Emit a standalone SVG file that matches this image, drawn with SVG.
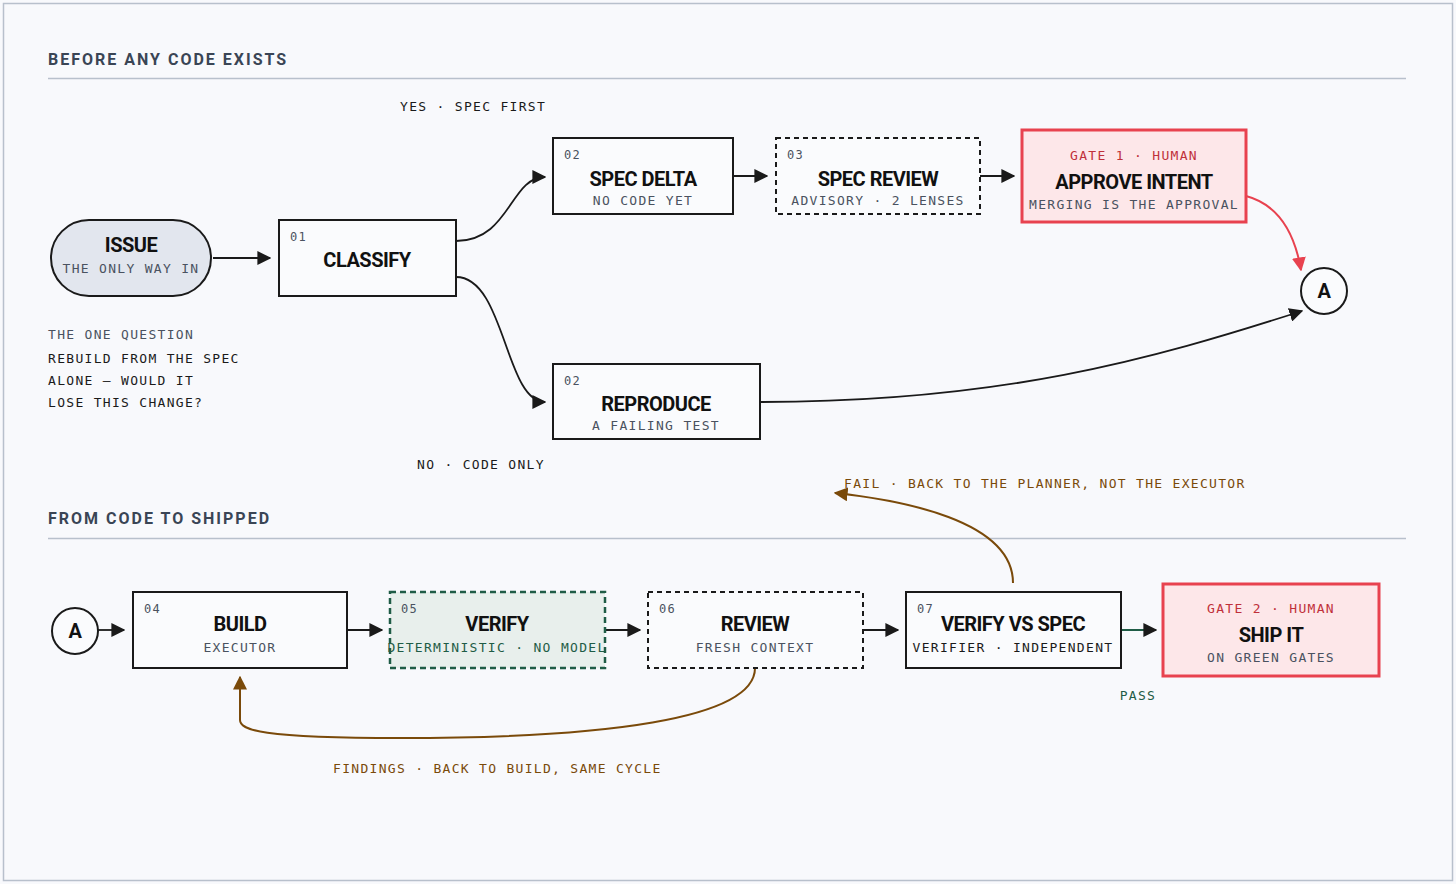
<svg xmlns="http://www.w3.org/2000/svg" width="1456" height="884" viewBox="0 0 1456 884">
<defs>
<style>
.hdr{font-family:Roboto,"Liberation Sans",sans-serif;font-weight:700;font-size:16px;letter-spacing:2px;fill:#3a4555}
.ttl{font-family:Roboto,"Liberation Sans",sans-serif;font-weight:700;font-size:20px;fill:#111;text-anchor:middle;letter-spacing:-0.5px}
.mono{font-family:"DejaVu Sans Mono","Liberation Mono",monospace;font-size:13px;letter-spacing:1.3px}
.sub{fill:#4a5260;text-anchor:middle}
.num{fill:#4a5260;font-size:12px}
.box{fill:#fafbfd;stroke:#1a1a1a;stroke-width:2}
.dash{stroke-dasharray:5 4}
.gate{fill:#fde7e9;stroke:#e8424f;stroke-width:3}
.gt{fill:#c0303a;text-anchor:middle}
.lbl{fill:#1a1a1a}
.brown{fill:#7a4a0a}
.c{fill:none;stroke:#1a1a1a;stroke-width:1.8}
</style>
<marker id="ahb" markerWidth="14" markerHeight="14" viewBox="0 0 10 10" refX="9" refY="5" orient="auto" markerUnits="userSpaceOnUse"><path d="M0,0 L10,5 L0,10 z" fill="#1a1a1a"/></marker>
<marker id="ahr" markerWidth="14" markerHeight="14" viewBox="0 0 10 10" refX="9" refY="5" orient="auto" markerUnits="userSpaceOnUse"><path d="M0,0 L10,5 L0,10 z" fill="#e8424f"/></marker>
<marker id="ahbr" markerWidth="14" markerHeight="14" viewBox="0 0 10 10" refX="9" refY="5" orient="auto" markerUnits="userSpaceOnUse"><path d="M0,0 L10,5 L0,10 z" fill="#7a4a0a"/></marker>
</defs>
<rect x="0" y="0" width="1456" height="884" fill="#f8f9fc"/>
<rect x="3.5" y="3.5" width="1449" height="877" fill="none" stroke="#b8c0cc" stroke-width="1.5"/>

<text class="hdr" x="48" y="65">BEFORE ANY CODE EXISTS</text>
<line x1="48" y1="78.5" x2="1406" y2="78.5" stroke="#b8c0cc" stroke-width="1.5"/>
<text class="hdr" x="48" y="524">FROM CODE TO SHIPPED</text>
<line x1="48" y1="538.5" x2="1406" y2="538.5" stroke="#b8c0cc" stroke-width="1.5"/>

<g id="connectors">
<path class="c" d="M213,258 H270" marker-end="url(#ahb)"/>
<path class="c" d="M456,241 C510,241 510,177 545,177" marker-end="url(#ahb)"/>
<path class="c" d="M456,277 C505,277 505,402 545,402" marker-end="url(#ahb)"/>
<path class="c" d="M733,176 H767" marker-end="url(#ahb)"/>
<path class="c" d="M980,176 H1014" marker-end="url(#ahb)"/>
<path d="M1246,196 C1280,205 1295,235 1301,270" fill="none" stroke="#e8424f" stroke-width="2" marker-end="url(#ahr)"/>
<path class="c" d="M760,402 C1000,402 1150,360 1302,311" marker-end="url(#ahb)"/>
<path class="c" d="M98,630 H124" marker-end="url(#ahb)"/>
<path class="c" d="M347,630 H382" marker-end="url(#ahb)"/>
<path class="c" d="M605,630 H640" marker-end="url(#ahb)"/>
<path class="c" d="M863,630 H898" marker-end="url(#ahb)"/>
<path d="M1121,630 H1156" fill="none" stroke="#1f5c46" stroke-width="1.8" marker-end="url(#ahb)"/>
<path d="M1013,583 C1013,520 900,500 835,493" fill="none" stroke="#7a4a0a" stroke-width="2" marker-end="url(#ahbr)"/>
<path d="M755,668 C755,720 600,738 400,738 C260,738 240,730 240,720 V677" fill="none" stroke="#7a4a0a" stroke-width="2" marker-end="url(#ahbr)"/>
</g>

<g id="issue"><rect x="51" y="220" width="160" height="76" rx="38" fill="#e2e6ee" stroke="#1a1a1a" stroke-width="2"/>
<text class="ttl" x="131" y="252">ISSUE</text><text class="mono sub" x="131" y="273">THE ONLY WAY IN</text></g>
<g id="classify"><rect class="box" x="279" y="220" width="177" height="76"/>
<text class="mono num" x="290" y="241">01</text><text class="ttl" x="367" y="267">CLASSIFY</text></g>
<g id="specdelta"><rect class="box" x="553" y="138" width="180" height="76"/>
<text class="mono num" x="564" y="159">02</text><text class="ttl" x="643" y="186">SPEC DELTA</text><text class="mono sub" x="643" y="205">NO CODE YET</text></g>
<g id="specreview"><rect class="box dash" x="776" y="138" width="204" height="76" stroke-width="1.5"/>
<text class="mono num" x="787" y="159">03</text><text class="ttl" x="878" y="186">SPEC REVIEW</text><text class="mono sub" x="878" y="205">ADVISORY · 2 LENSES</text></g>
<g id="approve"><rect class="gate" x="1022" y="130" width="224" height="92"/>
<text class="mono gt" x="1134" y="160">GATE 1 · HUMAN</text><text class="ttl" x="1134" y="189">APPROVE INTENT</text><text class="mono sub" x="1134" y="209">MERGING IS THE APPROVAL</text></g>
<g id="a1"><circle cx="1324" cy="291" r="23" fill="#fafbfd" stroke="#1a1a1a" stroke-width="2"/><text class="ttl" x="1324" y="298" font-size="18">A</text></g>
<g id="reproduce"><rect class="box" x="553" y="364" width="207" height="75"/>
<text class="mono num" x="564" y="385">02</text><text class="ttl" x="656" y="411">REPRODUCE</text><text class="mono sub" x="656" y="430">A FAILING TEST</text></g>

<text class="mono lbl" x="400" y="111">YES · SPEC FIRST</text>
<text class="mono lbl" x="417" y="469">NO · CODE ONLY</text>
<text class="mono" x="48" y="339" fill="#4a5260">THE ONE QUESTION</text>
<text class="mono lbl" x="48" y="363">REBUILD FROM THE SPEC</text>
<text class="mono lbl" x="48" y="385">ALONE — WOULD IT</text>
<text class="mono lbl" x="48" y="407">LOSE THIS CHANGE?</text>

<g id="a2"><circle cx="75" cy="631" r="23" fill="#fafbfd" stroke="#1a1a1a" stroke-width="2"/><text class="ttl" x="75" y="638" font-size="18">A</text></g>
<g id="build"><rect class="box" x="133" y="592" width="214" height="76"/>
<text class="mono num" x="144" y="613">04</text><text class="ttl" x="240" y="631">BUILD</text><text class="mono sub" x="240" y="652">EXECUTOR</text></g>
<g id="verify"><rect x="390" y="592" width="215" height="76" fill="#e8efec" stroke="#1f5c46" stroke-width="2.5" stroke-dasharray="6 4"/>
<text class="mono num" x="401" y="613" fill="#1f5c46">05</text><text class="ttl" x="497" y="631">VERIFY</text><text class="mono" x="497" y="652" fill="#1f5c46" text-anchor="middle">DETERMINISTIC · NO MODEL</text></g>
<g id="review"><rect class="box dash" x="648" y="592" width="215" height="76" stroke-width="1.5" stroke="#4a5260"/>
<text class="mono num" x="659" y="613">06</text><text class="ttl" x="755" y="631">REVIEW</text><text class="mono sub" x="755" y="652">FRESH CONTEXT</text></g>
<g id="verifyspec"><rect class="box" x="906" y="592" width="215" height="76" stroke-width="3"/>
<text class="mono num" x="917" y="613">07</text><text class="ttl" x="1013" y="631">VERIFY VS SPEC</text><text class="mono lbl" x="1013" y="652" text-anchor="middle">VERIFIER · INDEPENDENT</text></g>
<g id="ship"><rect class="gate" x="1163" y="584" width="216" height="92"/>
<text class="mono gt" x="1271" y="613">GATE 2 · HUMAN</text><text class="ttl" x="1271" y="642">SHIP IT</text><text class="mono sub" x="1271" y="662">ON GREEN GATES</text></g>

<text class="mono" x="1138" y="700" fill="#1f5c46" text-anchor="middle">PASS</text>
<text class="mono brown" x="844" y="488">FAIL · BACK TO THE PLANNER, NOT THE EXECUTOR</text>
<text class="mono brown" x="333" y="773">FINDINGS · BACK TO BUILD, SAME CYCLE</text>
</svg>
